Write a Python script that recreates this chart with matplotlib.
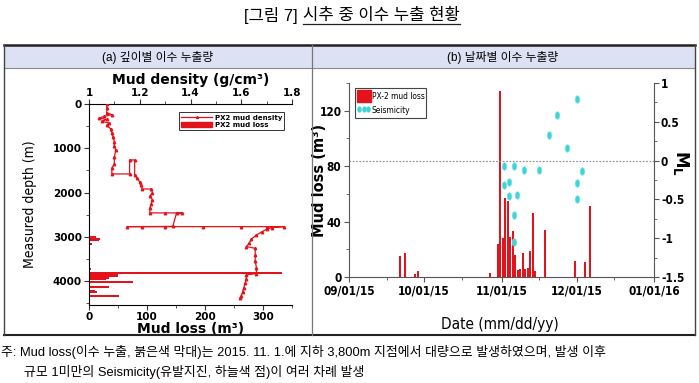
import matplotlib
matplotlib.use('Agg')
import pandas as pd
import matplotlib.pyplot as plt
import matplotlib.dates as mdates
from matplotlib import font_manager
from matplotlib.font_manager import FontProperties
from matplotlib.ticker import MultipleLocator
from matplotlib.path import Path
from matplotlib.transforms import Affine2D
from matplotlib.lines import Line2D
from matplotlib.patches import Patch, Rectangle

# ---- data: (a) depth profile ----
density_depth = [0, 100, 200, 240, 280, 320, 350, 390, 430, 480, 560, 650, 750, 850, 950,
                 1050, 1200, 1350, 1450, 1580, 1580, 1264, 1264, 1600, 1680, 1760, 1840, 1920,
                 1920, 2000, 2080, 2160, 2250, 2350, 2460, 2460, 2460, 2465, 2765, 2770, 2770,
                 2770, 2770, 2770, 2770, 2770, 2790, 2830, 2890, 2960, 3050, 3150, 3220, 3260,
                 3400, 3550, 3700, 3830, 3860, 3950, 4050, 4150, 4250, 4330, 4380]
density = [1.07, 1.07, 1.07, 1.09, 1.06, 1.04, 1.07, 1.05, 1.08, 1.07, 1.085, 1.09, 1.095, 1.10, 1.10,
           1.105, 1.10, 1.10, 1.09, 1.09, 1.16, 1.16, 1.18, 1.18, 1.19, 1.20, 1.205, 1.21,
           1.245, 1.25, 1.24, 1.25, 1.245, 1.24, 1.24, 1.30, 1.365, 1.345, 1.33, 1.15, 1.21,
           1.30, 1.45, 1.60, 1.70, 1.77, 1.72, 1.70, 1.68, 1.66, 1.64, 1.63, 1.62, 1.655,
           1.655, 1.655, 1.66, 1.66, 1.62, 1.62, 1.615, 1.61, 1.605, 1.60, 1.595]

loss_depth = [3000, 3040, 3070, 3160, 3720, 3825, 3850, 3880, 3905, 3930, 3955,
              4030, 4140, 4215, 4245, 4335]
loss_volume = [12, 19, 17, 6, 3, 333, 50, 50, 30, 34, 30,
               76, 35, 10, 13, 52]

# ---- data: (b) daily mud loss and seismicity ----
loss_dates = ['2015-09-21', '2015-09-23', '2015-09-27', '2015-09-28', '2015-10-27', '2015-10-30',
              '2015-10-31', '2015-11-01', '2015-11-02', '2015-11-03', '2015-11-04', '2015-11-05',
              '2015-11-06', '2015-11-07', '2015-11-08', '2015-11-09', '2015-11-10', '2015-11-11',
              '2015-11-12', '2015-11-13', '2015-11-14', '2015-11-18', '2015-11-30', '2015-12-04',
              '2015-12-06']
loss_daily = [15, 17, 2, 4, 3, 24,
              134, 28, 57, 55, 29, 33,
              16, 5, 6, 17.5, 5.5, 6.7,
              19, 46, 4, 34, 11.5, 10.5,
              51]

quake_dates = ['2015-11-02', '2015-11-02', '2015-11-04', '2015-11-04', '2015-11-06', '2015-11-06',
               '2015-11-07', '2015-11-06', '2015-11-10', '2015-11-16', '2015-11-20', '2015-11-23',
               '2015-11-27', '2015-12-01', '2015-12-03', '2015-12-01', '2015-12-01']
quake_ml = [-0.07, -0.31, -0.28, -0.45, -0.07, -0.70,
            -0.44, -1.05, -0.12, -0.12, 0.33, 0.59,
            0.16, 0.79, -0.14, -0.29, -0.49]

RED = '#e3121b'
CYAN = '#3fd4d6'

# narrow font for panel (b), if one is installed
files = [f.fname for f in font_manager.fontManager.ttflist]


def find(keys):
    for k in keys:
        for f in files:
            if k in f:
                return f
    return None


nb_path = find(['LiberationSansNarrow-Bold.', 'DejaVuSansCondensed-Bold.'])
nr_path = find(['LiberationSansNarrow-Regular.', 'DejaVuSansCondensed.'])
HAVE_NARROW = nb_path is not None and nr_path is not None


def narrow(size, bold=False):
    if HAVE_NARROW:
        return FontProperties(fname=nb_path if bold else nr_path, size=size)
    return FontProperties(family='Liberation Sans', weight='bold' if bold else 'normal', size=size * 0.9)


KR = ['Liberation Sans', 'Noto Sans CJK KR']
BOLD = 'DejaVu Sans'

fig = plt.figure(figsize=(6.99, 3.83), dpi=100)


def fx(px):
    return px / 699


def fy(py):
    return 1 - py / 383


def hline(x0, x1, y, **kw):
    fig.add_artist(Line2D([fx(x0), fx(x1)], [fy(y), fy(y)], transform=fig.transFigure, **kw))


def vline(x, y0, y1, **kw):
    fig.add_artist(Line2D([fx(x), fx(x)], [fy(y0), fy(y1)], transform=fig.transFigure, **kw))


# table frame
fig.add_artist(Rectangle((fx(4), fy(68)), fx(695) - fx(4), fy(45) - fy(68),
                         transform=fig.transFigure, facecolor='#dde1f4', edgecolor='none', zorder=0))
hline(4, 695, 45, color='#222222', lw=1.8)
hline(4, 695, 68, color='#8a8a8a', lw=0.8)
hline(4, 695, 335, color='#222222', lw=1.5)
vline(4, 45, 335, color='#444444', lw=1.0)
vline(695, 45, 335, color='#444444', lw=1.0)
vline(312, 45, 335, color='#777777', lw=0.9)

fig.text(fx(158), fy(57), '(a) 깊이별 이수 누출량', ha='center', va='center', fontsize=8.5, family=KR)
fig.text(fx(503), fy(57), '(b) 날짜별 이수 누출량', ha='center', va='center', fontsize=8.5, family=KR)

# title
fig.text(fx(298), fy(15), '[그림 7]', ha='right', va='center', fontsize=12, family=KR)
t2 = fig.text(fx(303), fy(15), '시추 중 이수 누출 현황', ha='left', va='center', fontsize=12, family=KR)

# footnote
fig.text(fx(1), fy(352), '주: Mud loss(이수 누출, 붉은색 막대)는 2015. 11. 1.에 지하 3,800m 지점에서 '
         '대량으로 발생하였으며, 발생 이후', ha='left', va='center', fontsize=9.3, family=KR)
fig.text(fx(24), fy(372), '규모 1미만의 Seismicity(유발지진, 하늘색 점)이 여러 차례 발생',
         ha='left', va='center', fontsize=9.3, family=KR)

# ---- panel (a) ----
ax1 = fig.add_axes([fx(89), fy(305), fx(292) - fx(89), fy(104) - fy(305)])
ax1.barh(loss_depth, loss_volume, height=45, color=RED, zorder=2)
ax1.set_xlim(0, 350)
ax1.set_ylim(4540, 0)
ax1.spines['right'].set_visible(False)
ax1.spines['top'].set_visible(False)
ax1.xaxis.set_major_locator(MultipleLocator(100))
ax1.xaxis.set_minor_locator(MultipleLocator(50))
ax1.yaxis.set_major_locator(MultipleLocator(1000))
ax1.yaxis.set_minor_locator(MultipleLocator(500))
ax1.tick_params(which='both', direction='out', color='#333333', pad=1.5)
ax1.tick_params(which='major', length=3.5)
ax1.tick_params(which='minor', length=2)
ax1.text(0.5, -0.118, 'Mud loss (m³)', transform=ax1.transAxes, ha='center', va='center',
         fontsize=10, fontweight='bold', family=BOLD)
ax1.text(-0.29, 0.5, 'Measured depth (m)', transform=ax1.transAxes, ha='center', va='center',
         rotation=90, fontproperties=narrow(10))

ax2 = ax1.twiny()
ax2.plot(density, density_depth, color=RED, lw=0.9, marker='^', ms=1.8, zorder=3)
ax2.set_xlim(1.0, 1.8)
ax2.set_ylim(4540, 0)
for s in ['right', 'bottom', 'left']:
    ax2.spines[s].set_visible(False)
ax2.xaxis.set_major_locator(MultipleLocator(0.2))
ax2.xaxis.set_minor_locator(MultipleLocator(0.1))
ax2.xaxis.set_major_formatter(plt.FuncFormatter(lambda v, p: f'{v:g}'))
ax2.tick_params(which='both', direction='out', color='#333333', pad=1)
ax2.tick_params(which='major', length=3.5)
ax2.tick_params(which='minor', length=2)
ax2.text(0.5, 1.118, 'Mud density (g/cm³)', transform=ax2.transAxes, ha='center', va='center',
         fontsize=10, fontweight='bold', family=BOLD)
leg_a = ax2.legend(handles=[Line2D([], [], color=RED, lw=0.9, marker='^', ms=1.5),
                            Patch(facecolor=RED, edgecolor=RED)],
                   labels=['PX2 mud density', 'PX2 mud loss'],
                   loc='upper right', bbox_to_anchor=(0.98, 0.975), fancybox=False,
                   edgecolor='#333333', framealpha=1, handlelength=4.5, handleheight=0.9,
                   labelspacing=0.15, borderpad=0.25, handletextpad=0.4,
                   prop={'family': BOLD, 'weight': 'bold', 'size': 5})
leg_a.get_frame().set_linewidth(0.7)

# ---- panel (b) ----
ax3 = fig.add_axes([fx(349), fy(277), fx(654) - fx(349), fy(83) - fy(277)])
ax3.bar(pd.to_datetime(loss_dates), loss_daily, width=0.9, align='edge', color=RED, zorder=2)
ax3.set_xlim(pd.Timestamp('2015-09-01'), pd.Timestamp('2016-01-01'))
ax3.set_ylim(0, 140)
ax3.spines['top'].set_visible(False)
ax3.spines['right'].set_visible(False)
ax3.xaxis.set_major_locator(mdates.MonthLocator())
ax3.xaxis.set_minor_locator(mdates.MonthLocator(bymonthday=16))
ax3.xaxis.set_major_formatter(mdates.DateFormatter('%m/%d/%y'))
ax3.yaxis.set_major_locator(MultipleLocator(40))
ax3.yaxis.set_minor_locator(MultipleLocator(20))
ax3.tick_params(which='both', direction='out', color='#555555', pad=2)
ax3.tick_params(which='major', length=3.5)
ax3.tick_params(which='minor', length=2)
for s in ['left', 'bottom']:
    ax3.spines[s].set_color('#555555')
ax3.text(-0.097, 0.5, 'Mud loss (m³)', transform=ax3.transAxes, ha='center', va='center',
         rotation=90, fontsize=10.5, fontweight='bold', family=BOLD)
ax3.text(0.495, -0.247, 'Date (mm/dd/yy)', transform=ax3.transAxes, ha='center', va='center',
         fontproperties=narrow(11))

ax4 = ax3.twinx()
ax4.set_ylim(-1.5, 1)
ax4.axhline(0, color='#888888', lw=0.8, ls=(0, (1.5, 1.5)), zorder=1)
ell = Path.unit_circle().transformed(Affine2D().scale(0.62, 1.0))
ax4.plot(pd.to_datetime(quake_dates), quake_ml, ls='none', marker=ell, ms=5.5,
         color=CYAN, mec='#8ee6e6', mew=0.4, zorder=3)
for s in ['top', 'left', 'bottom']:
    ax4.spines[s].set_visible(False)
ax4.spines['right'].set_color('#555555')
ax4.yaxis.set_major_locator(MultipleLocator(0.5))
ax4.yaxis.set_minor_locator(MultipleLocator(0.25))
ax4.yaxis.set_major_formatter(plt.FuncFormatter(lambda v, p: f'{v:g}'))
ax4.tick_params(which='both', direction='out', color='#555555', pad=1.5)
ax4.tick_params(which='major', length=3.5)
ax4.tick_params(which='minor', length=2)
ax4.text(1.088, 0.588, r'$\mathbf{M}_{\mathbf{L}}$', transform=ax4.transAxes, ha='center',
         va='center', rotation=270, fontsize=12)

leg_b = ax4.legend(handles=[Patch(facecolor=RED, edgecolor=RED),
                            Line2D([], [], ls='none', marker=ell, ms=3.5, color=CYAN)],
                   labels=['PX-2 mud loss', 'Seismicity'], numpoints=3,
                   loc='upper left', bbox_to_anchor=(0.006, 0.995), fancybox=False,
                   edgecolor='#444444', framealpha=1, handlelength=1.7, handleheight=1.9,
                   labelspacing=0.25, borderpad=0.2, handletextpad=0.1,
                   prop=narrow(6))
leg_b.get_frame().set_linewidth(0.8)

# tick label fonts, set once the ticks exist
fig.canvas.draw()
fp_a = FontProperties(family=BOLD, weight='bold', size=7.5)
for lab in ax1.get_xticklabels() + ax1.get_yticklabels() + ax2.get_xticklabels():
    lab.set_fontproperties(fp_a)
fp_b = narrow(8.5, bold=True)
for lab in ax3.get_xticklabels() + ax3.get_yticklabels() + ax4.get_yticklabels():
    lab.set_fontproperties(fp_b)

# underline on title
bb = t2.get_window_extent().transformed(fig.transFigure.inverted())
fig.add_artist(Line2D([bb.x0, bb.x1], [bb.y0 - 0.004, bb.y0 - 0.004], transform=fig.transFigure,
                      color='#222222', lw=0.9))

fig.savefig('out.png', dpi=100)
